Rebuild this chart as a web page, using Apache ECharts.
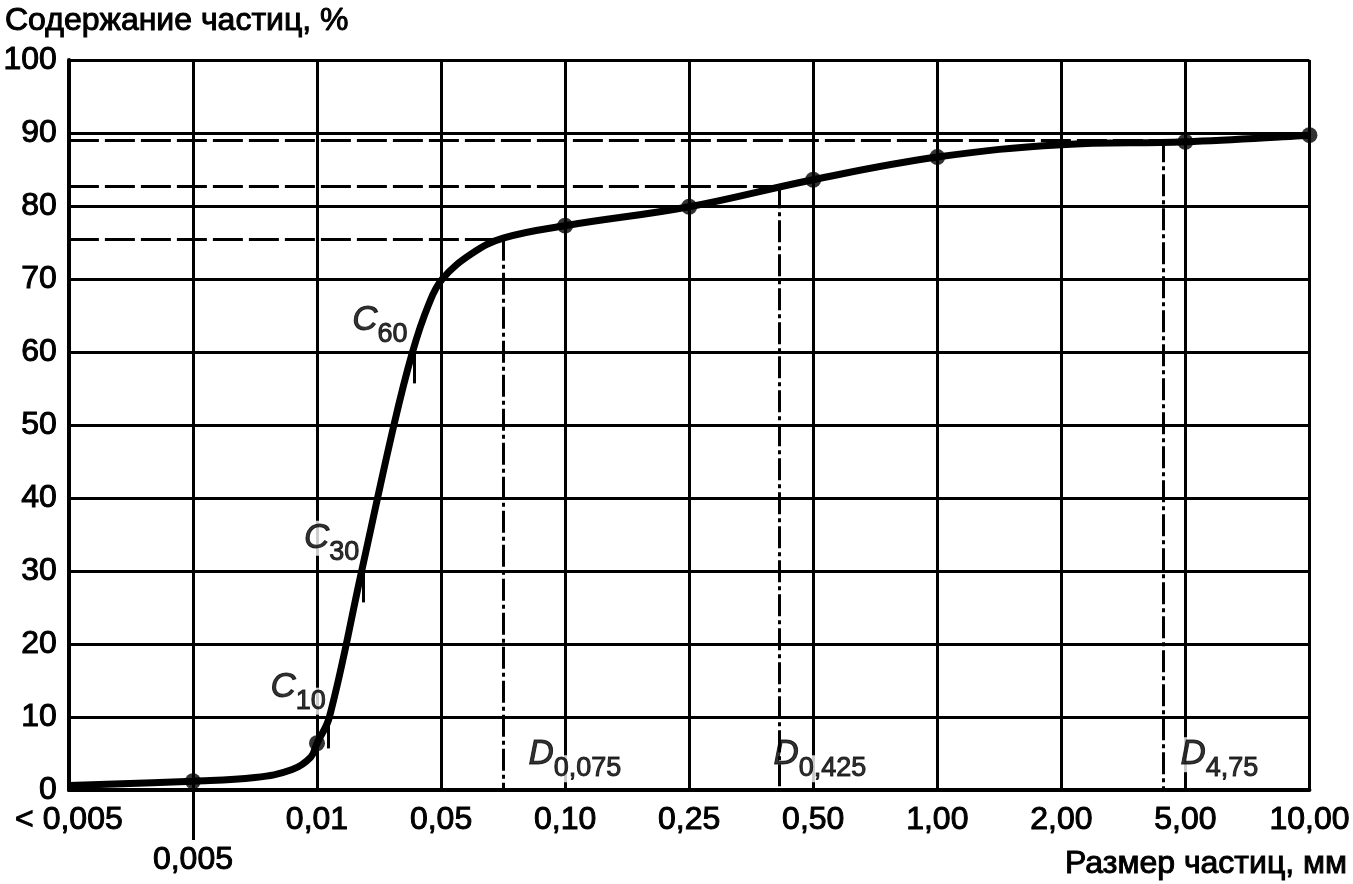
<!DOCTYPE html>
<html>
<head>
<meta charset="utf-8">
<script src="https://cdn.jsdelivr.net/npm/echarts@6/dist/echarts.min.js"></script>
<style>html,body{margin:0;padding:0;background:#fff}#chart{width:1353px;height:884px}</style>
</head>
<body>
<div id="chart"></div>
<script>
// x positions are category slots (0..10) of the sieve sizes
var sizeLabels = ['< 0,005','0,005','0,01','0,05','0,10','0,25','0,50','1,00','2,00','5,00','10,00'];
var yTicks = [0,10,20,30,40,50,60,70,80,90,100];

// grading curve
var curveX = [0, 1, 1.5, 1.8, 1.95, 2, 2.1, 2.36, 2.62, 2.77, 2.9, 3.01, 3.25, 3.5, 4, 5, 6, 7, 8, 9, 10];
var curveY = [0.6, 1.2, 1.7, 2.8, 4.5, 6.4, 10, 30, 50, 60, 66.5, 70, 73.5, 75.6, 77.3, 79.9, 83.6, 86.7, 88.4, 88.8, 89.7];

// measured points (dots)
var pointX = [1, 2, 4, 5, 6, 7, 9, 10];
var pointY = [1.2, 6.4, 77.3, 79.9, 83.6, 86.7, 88.8, 89.7];

// C10 / C30 / C60 markers
var cNames = ['10','30','60'];
var cLevel = [10, 30, 60];
var cX = [2.09, 2.37, 2.78];

// D0.075 / D0.425 / D4.75 dashed guides
var dNames = ['0,075','0,425','4,75'];
var dLevel = [75.5, 82.7, 89.0];
var dX = [3.505, 5.73, 8.82];

var FONT = '"Liberation Sans", Arial, sans-serif';
var INK = {color:'#000',textBorderColor:'#000',textBorderWidth:1};

var curve = curveX.map(function(x,i){return [x, curveY[i]];});
var points = pointX.map(function(x,i){return [x, pointY[i]];});

var guideLines = [];
dX.forEach(function(x,i){
    guideLines.push([{coord:[0,dLevel[i]],lineStyle:{type:[30,6]}},{coord:[x,dLevel[i]]}]);
    guideLines.push([{coord:[x,dLevel[i]],lineStyle:{type:[22,4,4,4]}},{coord:[x,0]}]);
});
var cTicks = cX.map(function(x,i){
    return [{coord:[x,cLevel[i]],lineStyle:{type:'solid'}},{coord:[x,cLevel[i]-4.3]}];
});

var cLabelPos = [[2.07,13.4],[2.34,33.8],[2.73,63.6]];
var dLabelPos = [[3.705,4.15],[5.68,4.15],[8.96,4.15]];

var rich = {
    m:Object.assign({fontFamily:FONT,fontSize:35,fontStyle:'italic',verticalAlign:'top',lineHeight:32,backgroundColor:'#fff'},INK),
    s:Object.assign({fontFamily:FONT,fontSize:27,verticalAlign:'bottom',lineHeight:26,backgroundColor:'#fff'},INK),
    z:{fontSize:10,lineHeight:45,width:0}
};

var chart = echarts.init(document.getElementById('chart'));
chart.setOption({
    animation:false,
    backgroundColor:'#fff',
    textStyle:{fontFamily:FONT,color:'#000'},
    title:[
        {text:'Содержание частиц, %',left:0,top:0,textStyle:Object.assign({fontFamily:FONT,fontSize:32,fontWeight:'normal'},INK)},
        {text:'Размер частиц, мм',right:0,top:843,textStyle:Object.assign({fontFamily:FONT,fontSize:32,fontWeight:'normal'},INK)}
    ],
    grid:{left:65,right:41,top:60,bottom:94,containLabel:false},
    xAxis:[{
        type:'value',min:0,max:10,interval:1,
        axisLine:{lineStyle:{color:'#000',width:4}},
        axisTick:{show:false},
        axisLabel:Object.assign({
            fontFamily:FONT,fontSize:32,margin:14,
            formatter:function(v){var t=sizeLabels[Math.round(v)];return Math.round(v)===1?'{low|'+t+'}':t;},
            rich:{low:Object.assign({fontFamily:FONT,fontSize:32,padding:[40,0,0,0]},INK)}
        },INK),
        splitLine:{show:true,lineStyle:{color:'#000',width:3}}
    },{
        // long tick under 0,005 only
        type:'value',min:0,max:10,interval:1,position:'bottom',
        axisLine:{show:false},
        axisLabel:{show:false},
        splitLine:{show:false},
        axisTick:{show:true,customValues:[1],length:50,lineStyle:{color:'#000',width:3}}
    }],
    yAxis:{
        type:'value',min:yTicks[0],max:yTicks[yTicks.length-1],interval:10,
        axisLine:{show:true,lineStyle:{color:'#000',width:4}},
        axisTick:{show:false},
        axisLabel:Object.assign({fontFamily:FONT,fontSize:32,margin:12},INK),
        splitLine:{show:true,lineStyle:{color:'#000',width:3}}
    },
    series:[
        {
            type:'scatter',symbolSize:0,silent:true,z:3,
            data:cLabelPos.map(function(p,i){return {value:p,label:{formatter:'{m|C}{s|'+cNames[i]+'}{z| }'}};})
                .concat(dLabelPos.map(function(p,i){return {value:p,label:{position:'right',formatter:'{m|D}{s|'+dNames[i]+'}{z| }'}};})),
            label:{show:true,position:'left',distance:0,color:'#000',rich:rich}
        },
        {
            type:'line',data:curve,smooth:0.4,showSymbol:false,z:5,
            lineStyle:{color:'#000',width:7},
            markLine:{silent:true,symbol:'none',label:{show:false},lineStyle:{color:'#000',width:3},data:guideLines.concat(cTicks)}
        },
        {
            type:'scatter',data:points,symbol:'circle',symbolSize:16,z:6,
            itemStyle:{color:'#000'}
        }
    ]
});
</script>
</body>
</html>
